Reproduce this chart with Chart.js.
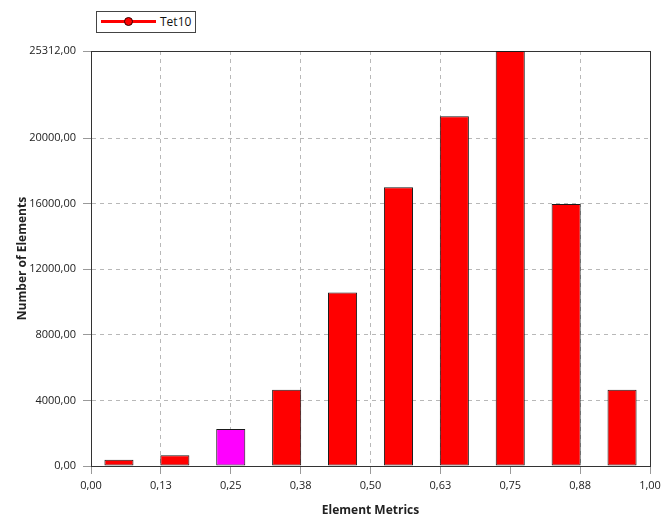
<!DOCTYPE html>
<html>
<head>
<meta charset="utf-8">
<script src="https://cdn.jsdelivr.net/npm/chart.js@4"></script>
<style>
  body{margin:0;background:#fff;}
  #wrap{position:relative;width:662px;height:524px;}
  #legend{position:absolute;left:96px;top:11px;width:100px;height:22px;box-sizing:border-box;border:1px solid #444;background:#fff;font:12px "Open Sans",sans-serif;color:#111;}
  #legend .ln{position:absolute;left:4px;top:8px;width:55px;height:3px;background:#f00;}
  #legend .dot{position:absolute;left:27px;top:5px;width:7px;height:7px;border-radius:50%;background:#f00;border:1px solid #300;}
  #legend .tx{position:absolute;left:63px;top:2px;line-height:16px;}
</style>
</head>
<body>
<div id="wrap">
  <canvas id="c" width="662" height="524"></canvas>
  <div id="legend"><div class="ln"></div><div class="dot"></div><span class="tx">Tet10</span></div>
</div>
<script>
const seriesName = 'Tet10';
const binCenters = [0.05, 0.15, 0.25, 0.35, 0.45, 0.55, 0.65, 0.75, 0.85, 0.95];
const counts = [380, 650, 2260, 4650, 10580, 17000, 21330, 25312, 15980, 4650];
const highlightIndex = 2;
const xTicks = [0, 0.125, 0.25, 0.375, 0.5, 0.625, 0.75, 0.875, 1];
const yTicks = [0, 4000, 8000, 12000, 16000, 20000, 25312];

const fmt2 = v => Number(v).toFixed(2).replace('.', ',');

// solid frame round the plot area, drawn under the bars
const frame = {
  id: 'frame',
  beforeDatasetsDraw(chart){
    const {ctx, chartArea:a} = chart;
    ctx.save();
    ctx.setLineDash([]);
    ctx.strokeStyle = '#333';
    ctx.lineWidth = 1;
    ctx.strokeRect(Math.round(a.left)+0.5, Math.round(a.top)+0.5, Math.round(a.right-a.left), Math.round(a.bottom-a.top));
    ctx.restore();
  }
};

const gridOpts = {color:'#b8b8b8', tickBorderDash:[], tickColor:'#999', tickLength:8, offset:false};
const borderOpts = {color:'#333', width:1, dash:[4,4]};
const tickFont = {family:'"Open Sans", sans-serif', size:11};
const titleFont = {family:'"Open Sans", sans-serif', size:12, weight:'bold'};

new Chart(document.getElementById('c'), {
  type:'bar',
  data:{ datasets:[{
    label: seriesName,
    data: binCenters.map((x,i)=>({x, y: counts[i]})),
    backgroundColor: ctx => ctx.dataIndex === highlightIndex ? '#ff00ff' : '#ff0000',
    borderColor:'#1a1a1a', borderWidth:1, borderSkipped:false,
    categoryPercentage:1, barPercentage:0.52
  }]},
  options:{
    responsive:false, animation:false,
    layout:{padding:{top:51, right:12, left:0, bottom:0}},
    plugins:{legend:{display:false}, tooltip:{enabled:false}},
    scales:{
      x:{ type:'linear', min:0, max:1, offset:false,
        afterBuildTicks: s => { s.ticks = xTicks.map(v=>({value:v})); },
        afterFit: s => { s.height = 58; s.paddingRight = 0; s.paddingLeft = 0; },
        grid: gridOpts,
        border: borderOpts,
        ticks:{callback:v=>fmt2(v), color:'#222', font:tickFont, padding:5, maxRotation:0, autoSkip:false},
        title:{display:true, text:'Element Metrics', color:'#222', font:titleFont, padding:{top:0, bottom:6}}
      },
      y:{ min:0, max:25312,
        afterBuildTicks: s => { s.ticks = yTicks.map(v=>({value:v})); },
        afterFit: s => { s.width = 91; },
        grid: gridOpts,
        border: borderOpts,
        ticks:{callback:v=>fmt2(v), color:'#222', font:tickFont, padding:7, autoSkip:false},
        title:{display:true, text:'Number of Elements', color:'#222', font:titleFont, padding:{top:15, bottom:0}}
      }
    }
  },
  plugins:[frame]
});
</script>
</body>
</html>
